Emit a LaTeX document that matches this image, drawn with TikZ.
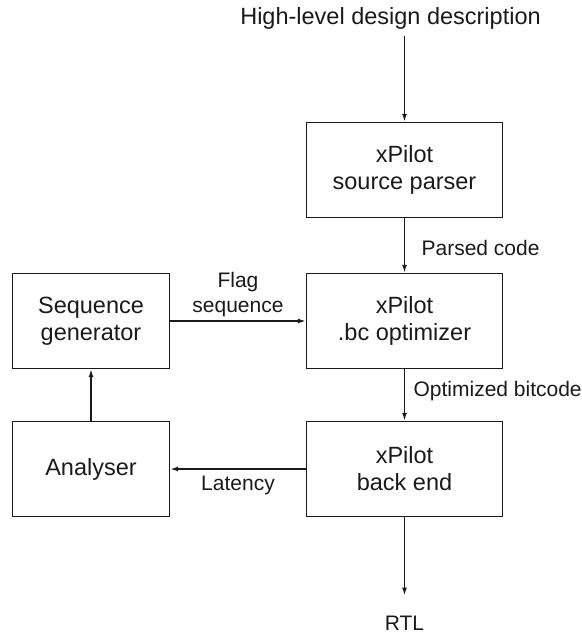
\documentclass[tikz,border=0pt]{standalone}
\usepackage{fontspec}
\setmainfont{Liberation Sans}
\usepackage{tikz}
\usetikzlibrary{arrows.meta,positioning}

\definecolor{inkgray}{HTML}{1A1A1A}

\tikzset{
  block/.style={draw=inkgray, line width=1.3pt, minimum width=196pt, minimum height=95pt,
    align=center, text=inkgray, font=\fontsize{23.5}{27}\selectfont},
  sideblock/.style={block, minimum width=157pt},
  lbl/.style={text=inkgray, align=center, font=\fontsize{21}{25}\selectfont},
  flow/.style={->, line width=1.5pt, draw=inkgray}
}

\begin{document}
\begin{tikzpicture}[x=1pt,y=1pt,>={Latex[length=8pt,width=5pt]}]
    % Frame
    \useasboundingbox (0,0) rectangle (581,634);

    % Input and output
    \node[lbl, font=\fontsize{23.5}{27}\selectfont, anchor=base] (hld) at (390.5,609) {High-level design description};
    \node[lbl, anchor=base] (rtl) at (404.5,3.5) {RTL};

    % xPilot tool flow
    \node[block] (parser) at (404.5,464) {xPilot\\source parser};
    \node[block] (optim) at (404.5,313) {xPilot\\.bc optimizer};
    \node[block] (backend) at (404.5,165) {xPilot\\back end};

    % Feedback loop
    \node[sideblock] (seqgen) at (91,313) {Sequence\\generator};
    \node[sideblock] (analyser) at (91,165) {Analyser};

    % Arrows
    \draw[flow, shorten <=3pt] (hld.south -| parser.north) -- (parser.north);
    \draw[flow] (parser) -- (optim) node[lbl, right=13pt, pos=0.55] {Parsed code};
    \draw[flow] (optim) -- (backend) node[lbl, right=5pt, pos=0.43] {Optimized bitcode};
    \draw[flow, shorten >=17pt] (backend) -- (rtl.north);
    \draw[flow] (seqgen) -- (optim) node[lbl, above, midway] {Flag\\sequence};
    \draw[flow] (backend) -- (analyser) node[lbl, below=3pt, midway] {Latency};
    \draw[flow] (analyser) -- (seqgen);
\end{tikzpicture}
\end{document}
